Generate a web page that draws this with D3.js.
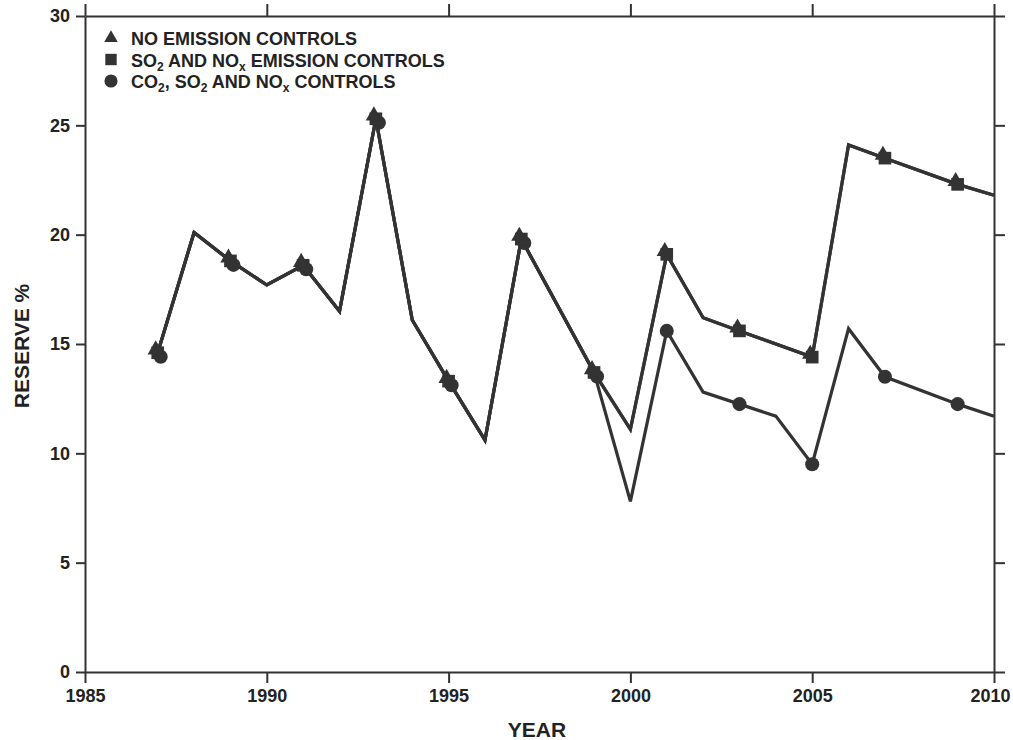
<!DOCTYPE html>
<html>
<head>
<meta charset="utf-8">
<script src="https://cdn.jsdelivr.net/npm/d3@7"></script>
<style>
  body { margin: 0; background: #fff; }
  svg text { font-family: "Liberation Sans", Arial, Helvetica, sans-serif; font-weight: bold; fill: #222; }
  .axis path, .axis line { stroke: #333; stroke-width: 2; }
</style>
</head>
<body>
<svg id="chart"></svg>
<script>
// values (null = no visible vertex that year)
const years = [1987, 1988, 1989, 1990, 1991, 1992, 1993, 1994, 1995, 1996, 1997, 1998,
               1999, 2000, 2001, 2002, 2003, 2004, 2005, 2006, 2007, 2008, 2009, 2010];
const noControls     = [14.6, 20.1, 18.8, 17.7, 18.6, 16.5, 25.3, 16.1, 13.3, 10.6, 19.8, null,
                        13.7, 11.1, 19.1, 16.2, 15.6, null, 14.4, 24.1, 23.5, null, 22.3, 21.8];
const so2NoxControls = [14.6, 20.1, 18.8, 17.7, 18.6, 16.5, 25.3, 16.1, 13.3, 10.6, 19.8, null,
                        13.7, 11.1, 19.1, 16.2, 15.6, null, 14.4, 24.1, 23.5, null, 22.3, 21.8];
const co2Controls    = [14.6, 20.1, 18.8, 17.7, 18.6, 16.5, 25.3, 16.1, 13.3, 10.6, 19.8, null,
                        13.7, 7.8, 15.6, 12.8, 12.25, 11.7, 9.5, 15.7, 13.5, null, 12.25, 11.7];
const markerYears = [1987, 1989, 1991, 1993, 1995, 1997, 1999, 2001, 2003, 2005, 2007, 2009];
const xTicks = [1985, 1990, 1995, 2000, 2005, 2010];
const yTicks = [0, 5, 10, 15, 20, 25, 30];

const legendItems = [
  { symbol: 'triangle', parts: [['NO EMISSION CONTROLS']] },
  { symbol: 'square',   parts: [['SO'], ['2', 'sub'], [' AND NO'], ['x', 'sub'], [' EMISSION CONTROLS']] },
  { symbol: 'circle',   parts: [['CO'], ['2', 'sub'], [', SO'], ['2', 'sub'], [' AND NO'], ['x', 'sub'], [' CONTROLS']] }
];

const W = 1013, H = 740;
const margin = { top: 16, right: 19, bottom: 68, left: 85 };
const width  = W - margin.left - margin.right;
const height = H - margin.top  - margin.bottom;
const ink = '#333';

const svg = d3.select('#chart').attr('width', W).attr('height', H);
svg.append('rect').attr('width', W).attr('height', H).attr('fill', '#fff');
const chart = svg.append('g').attr('transform', `translate(${margin.left},${margin.top})`);

const xScale = d3.scaleLinear().domain([1985, 2010]).range([0, width]);
const yScale = d3.scaleLinear().domain([0, 30]).range([height, 0]);

// frame: four axes with outward ticks
chart.append('g').attr('class', 'axis')
  .attr('transform', `translate(0,${height})`)
  .call(d3.axisBottom(xScale).tickValues(xTicks).tickFormat(d3.format('d'))
    .tickSize(11).tickSizeOuter(0).tickPadding(6))
  .call(g => g.selectAll('text')
    .attr('font-size', 18).attr('font-family', null)
    .attr('dx', d => d === 2010 ? -4 : 0));
chart.append('g').attr('class', 'axis')
  .call(d3.axisTop(xScale).tickValues(xTicks).tickFormat('').tickSize(12).tickSizeOuter(0));
chart.append('g').attr('class', 'axis')
  .call(d3.axisLeft(yScale).tickValues(yTicks).tickSize(9).tickSizeOuter(0).tickPadding(6))
  .call(g => g.selectAll('text').attr('font-size', 18).attr('font-family', null));
chart.append('g').attr('class', 'axis')
  .attr('transform', `translate(${width},0)`)
  .call(d3.axisRight(yScale).tickValues(yTicks).tickFormat('').tickSize(11).tickSizeOuter(0));
chart.selectAll('.axis text').attr('fill', '#222');

svg.append('text')
  .attr('x', 537)
  .attr('y', 737)
  .attr('text-anchor', 'middle')
  .attr('font-size', 21)
  .text('YEAR');

svg.append('text')
  .attr('transform', 'rotate(-90)')
  .attr('x', -346)
  .attr('y', 29)
  .attr('text-anchor', 'middle')
  .attr('font-size', 21)
  .text('RESERVE %');

const series = [
  { key: 'co2',   values: co2Controls,    symbol: 'circle' },
  { key: 'so2',   values: so2NoxControls, symbol: 'square' },
  { key: 'none',  values: noControls,     symbol: 'triangle' }
];

const symbolGen = {
  triangle: d3.symbol().type(d3.symbolTriangle).size(115)(),
  square:   d3.symbol().type(d3.symbolSquare).size(160)(),
  circle:   d3.symbol().type(d3.symbolCircle).size(155)()
};

const line = d3.line()
  .x(d => xScale(d.year))
  .y(d => yScale(d.value));

series.forEach(s => {
  const pts = years.map((year, i) => ({ year, value: s.values[i] })).filter(d => d.value !== null);
  chart.append('path')
    .datum(pts)
    .attr('fill', 'none')
    .attr('stroke', ink)
    .attr('stroke-width', 3.2)
    .attr('stroke-linejoin', 'miter')
    .attr('d', line);
});

// markers are nudged apart where the series lie on top of each other
series.forEach(s => {
  const pts = markerYears.map(year => {
    const i = years.indexOf(year);
    const shared = s.symbol === 'circle' ? co2Controls[i] === noControls[i] : true;
    let dx = 0, dy = 0;
    if (s.symbol === 'triangle') { dx = -2; dy = -3; }
    if (s.symbol === 'circle' && shared) { dx = 3; dy = 4; }
    return { year, value: s.values[i], dx, dy };
  });
  chart.selectAll(`.mark-${s.key}`)
    .data(pts)
    .join('path')
    .attr('class', `mark-${s.key}`)
    .attr('d', symbolGen[s.symbol])
    .attr('fill', ink)
    .attr('transform', d => `translate(${xScale(d.year) + d.dx},${yScale(d.value) + d.dy})`);
});

const legend = svg.append('g').attr('transform', 'translate(111,38)');
legendItems.forEach((item, i) => {
  const row = legend.append('g').attr('transform', `translate(0,${i * 21.5})`);
  row.append('path')
    .attr('d', d3.symbol().type(
      item.symbol === 'triangle' ? d3.symbolTriangle :
      item.symbol === 'square' ? d3.symbolSquare : d3.symbolCircle)
      .size(item.symbol === 'triangle' ? 80 : item.symbol === 'square' ? 130 : 135)())
    .attr('fill', ink);
  const txt = row.append('text').attr('x', 20).attr('y', 7).attr('font-size', 18);
  let shifted = false;
  item.parts.forEach(([t, kind]) => {
    const ts = txt.append('tspan').text(t);
    if (kind === 'sub') {
      ts.attr('font-size', 12).attr('dy', shifted ? 0 : 4);
      shifted = true;
    } else if (shifted) {
      ts.attr('dy', -4);
      shifted = false;
    }
  });
});
</script>
</body>
</html>
